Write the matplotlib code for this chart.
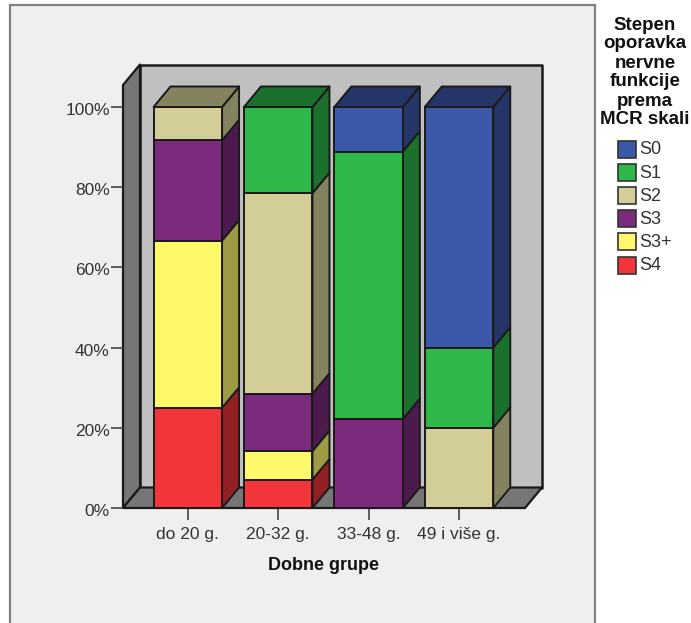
import numpy as np
import matplotlib
matplotlib.use("Agg")
import matplotlib.pyplot as plt
from matplotlib.patches import Polygon, Rectangle
from matplotlib.ticker import PercentFormatter
from matplotlib.transforms import ScaledTranslation

plt.rcParams.update({'font.family':['Liberation Sans','DejaVu Sans'],'font.size':12})

W,H=691,623
groups=['do 20 g.','20-32 g.','33-48 g.','49 i više g.']
grades=['S4','S3+','S3','S2','S1','S0']
S4=[25.0,7.1,0,0]
S3p=[41.7,7.1,0,0]
S3=[25.0,14.3,22.2,0]
S2=[8.3,50.0,0,20.0]
S1=[0,21.5,66.7,20.0]
S0=[0,0,11.1,60.0]
series=[S4,S3p,S3,S2,S1,S0]
COL={'S0':'#3c58a8','S1':'#2fb84a','S2':'#d3ce97','S3':'#7b2a7c','S3+':'#fdf96a','S4':'#f2343b'}
SIDE={'S0':'#263567','S1':'#1c702e','S2':'#85825f','S3':'#4c1a4d','S3+':'#9e9b44','S4':'#932025'}
EDGE='#1a1a1a'

# pixel layout of the front plane, everything else hangs off it
px0,px1,py0,py100=123,525,508,107
cx0,cspace=187.8,90.4
bw=0.758
pct=(py0-py100)/100
dx=17/cspace; dy=20.5/pct

fig=plt.figure(figsize=(W/100,H/100),dpi=100,facecolor='white')
fig.add_artist(Rectangle((9.5/W,-0.01),(595-9.5)/W,1.01-5/H,transform=fig.transFigure,
                         facecolor='#efefef',edgecolor='#808080',lw=1.6,zorder=-1))
ax=fig.add_axes([px0/W,1-py0/H,(px1-px0)/W,(py0-py100)/H])
ax.patch.set_alpha(0)
xl=-(cx0-px0)/cspace; xr=3+(px1-cx0-3*cspace)/cspace
ax.set_xlim(xl,xr); ax.set_ylim(0,100)
for s in ax.spines.values(): s.set_visible(False)

def poly(pts,fc,z,lw=1.4):
    ax.add_patch(Polygon(pts,closed=True,facecolor=fc,edgecolor=EDGE,lw=lw,zorder=z,clip_on=False,joinstyle='round'))

# back wall, left wall, floor - the box runs a bit above 100%
box_top=(py0-85)/pct
poly([(xl+dx,dy),(xr+dx,dy),(xr+dx,box_top+dy),(xl+dx,box_top+dy)],'#c0c0c0',1,1.8)
poly([(xl,0),(xl+dx,dy),(xl+dx,box_top+dy),(xl,box_top)],'#767676',1.1,1.6)
poly([(xl,0),(xr,0),(xr+dx,dy),(xl+dx,dy)],'#767676',1.2,1.6)

xs=np.arange(len(groups))
bottom=np.zeros(len(groups))
for name,vals in zip(grades,series):
    vals=np.array(vals,dtype=float)
    ax.bar(xs,vals,width=bw,bottom=bottom,color=COL[name],edgecolor=EDGE,lw=1.4,zorder=3,clip_on=False)
    for x,b,v in zip(xs,bottom,vals):
        if v<=0: continue
        r=x+bw/2; l=x-bw/2
        poly([(r,b),(r+dx,b+dy),(r+dx,b+v+dy),(r,b+v)],SIDE[name],2.5)
        if abs(b+v-100)<0.01:
            poly([(l,100),(r,100),(r+dx,100+dy),(l+dx,100+dy)],SIDE[name],2.6)
    bottom+=vals

ax.set_xticks(xs); ax.set_xticklabels(groups,color='#333333',fontsize=12.5)
ax.set_yticks(range(0,101,20))
ax.yaxis.set_major_formatter(PercentFormatter(100,decimals=0))
ax.tick_params(axis='x',length=8.6,width=1.2,color='#444444',pad=5)
ax.tick_params(axis='y',length=8.6,width=1.2,color='#444444',pad=1,labelcolor='#333333',labelsize=12.5)
nudge=ScaledTranslation(0,-2/100,fig.dpi_scale_trans)
for lab in ax.get_yticklabels():
    lab.set_transform(lab.get_transform()+nudge)
ax.set_xlabel('Dobne grupe',fontweight='bold',fontsize=13,color='#111111',labelpad=11)

# legend block, SPSS style: centred title with tight lines and manual swatches
title=['Stepen','oporavka','nervne','funkcije','prema','MCR skali']
for i,t in enumerate(title):
    fig.text(645/W,1-(25+19*i)/H,t,ha='center',va='center',fontweight='bold',fontsize=13.5,color='#111111')
for i,name in enumerate(grades[::-1]):
    yc=149+23.2*i
    fig.add_artist(Rectangle((618/W,1-(yc+8.5)/H),18/W,17/H,transform=fig.transFigure,
                             facecolor=COL[name],edgecolor='#333333',lw=1.2))
    fig.text(639/W,1-(yc+1)/H,name,ha='left',va='center',fontsize=13,color='#333333')

fig.savefig('out.png',dpi=100)
